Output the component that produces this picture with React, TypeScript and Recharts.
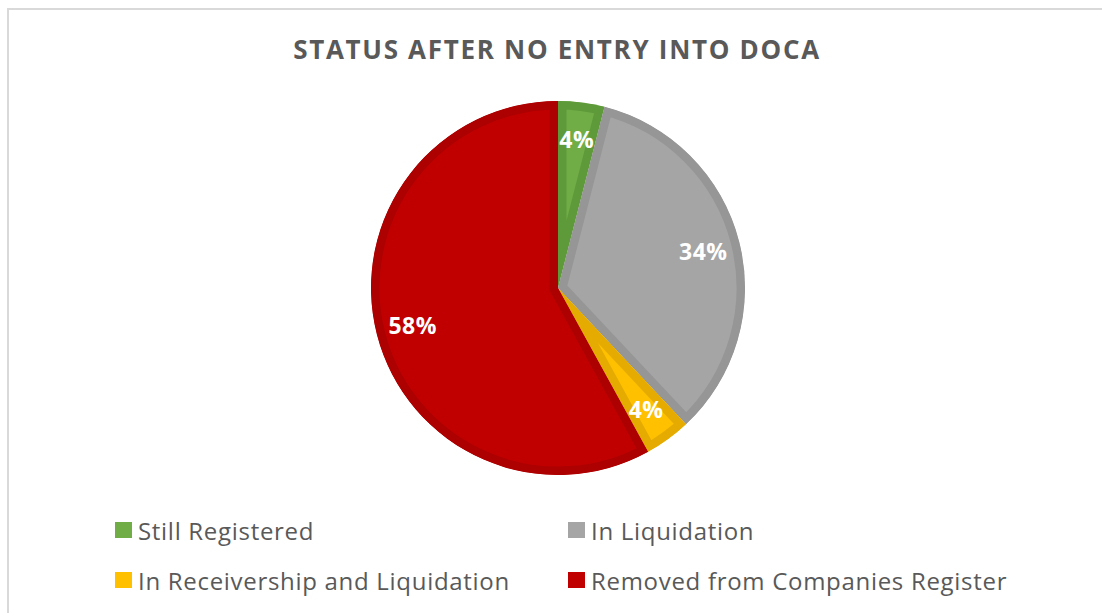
import { Legend, Pie, PieChart, Sector } from 'recharts'

const categories = ['Still Registered', 'In Liquidation', 'In Receivership and Liquidation', 'Removed from Companies Register']
const shares = [4, 34, 4, 58]
const fills = ['#70ad47', '#a5a5a5', '#ffc000', '#c00000']
const edges = ['#5f9a3a', '#969696', '#e5ab00', '#ad0000']

const data = categories.map((name, i) => ({ name, value: shares[i] }))

const FONT = '"Open Sans", Lato, sans-serif'
const RAD = Math.PI / 180

// white bold percent labels sitting ~80% out from the centre
function renderLabel(props: any) {
  const { cx, cy, midAngle, percent } = props
  const r = 150
  const x = cx + r * Math.cos(-midAngle * RAD)
  const y = cy + r * Math.sin(-midAngle * RAD)
  return (
    <text
      x={x}
      y={y}
      fill="#ffffff"
      fontFamily={FONT}
      fontWeight={700}
      fontSize={23}
      letterSpacing={0.5}
      textAnchor="middle"
      dominantBaseline="central"
    >
      {`${Math.round(percent * 100)}%`}
    </text>
  )
}

// slice with an inset darker border: stroke is clipped to the slice itself
function renderSlice(props: any) {
  const name = props.name ?? props.payload?.name
  const i = Math.max(0, categories.indexOf(name))
  const geom = {
    cx: props.cx,
    cy: props.cy,
    innerRadius: props.innerRadius,
    outerRadius: props.outerRadius,
    startAngle: props.startAngle,
    endAngle: props.endAngle,
  }
  const id = `slice-clip-${i}`
  return (
    <g>
      <defs>
        <clipPath id={id}>
          <Sector {...geom} />
        </clipPath>
      </defs>
      <Sector
        {...geom}
        fill={fills[i]}
        stroke={edges[i]}
        strokeWidth={17}
        strokeLinejoin="miter"
        clipPath={`url(#${id})`}
      />
    </g>
  )
}

function renderLegend() {
  return (
    <div
      style={{
        display: 'grid',
        gridTemplateColumns: '453px 460px',
        rowGap: 22,
        paddingLeft: 115,
        fontFamily: FONT,
        fontSize: 24,
        letterSpacing: 0.7,
        color: '#595959',
      }}
    >
      {categories.map((c, i) => (
        <div key={c} style={{ display: 'flex', alignItems: 'center', height: 28 }}>
          <span style={{ width: 17, height: 16, background: fills[i], marginRight: 6, display: 'inline-block' }} />
          <span>{c}</span>
        </div>
      ))}
    </div>
  )
}

export default function App() {
  return (
    <div style={{ position: 'absolute', left: 0, top: 0, width: 1102, height: 613, background: '#fff', overflow: 'hidden' }}>
      <div
        style={{
          position: 'absolute',
          left: 7,
          top: 8,
          width: 1102,
          height: 613,
          borderTop: '2px solid #d9d9d9',
          borderLeft: '2px solid #d9d9d9',
        }}
      />
      <div
        style={{
          position: 'absolute',
          left: 0,
          top: 31,
          width: 1114,
          textAlign: 'center',
          fontFamily: FONT,
          fontWeight: 700,
          fontSize: 26,
          letterSpacing: 1.7,
          color: '#595959',
        }}
      >
        STATUS AFTER NO ENTRY INTO DOCA
      </div>
      <div style={{ position: 'absolute', left: 0, top: 0 }}>
        <PieChart width={1102} height={613} margin={{ top: 0, right: 0, bottom: 0, left: 0 }}>
          <Pie
            data={data}
            dataKey="value"
            nameKey="name"
            cx={558}
            cy={288}
            outerRadius={187}
            startAngle={90}
            endAngle={-270}
            shape={renderSlice}
            label={renderLabel}
            labelLine={false}
            isAnimationActive={false}
          />
          <Legend
            content={renderLegend}
            layout="horizontal"
            verticalAlign="bottom"
            wrapperStyle={{ left: 0, top: 516, width: 1102 }}
          />
        </PieChart>
      </div>
    </div>
  )
}
